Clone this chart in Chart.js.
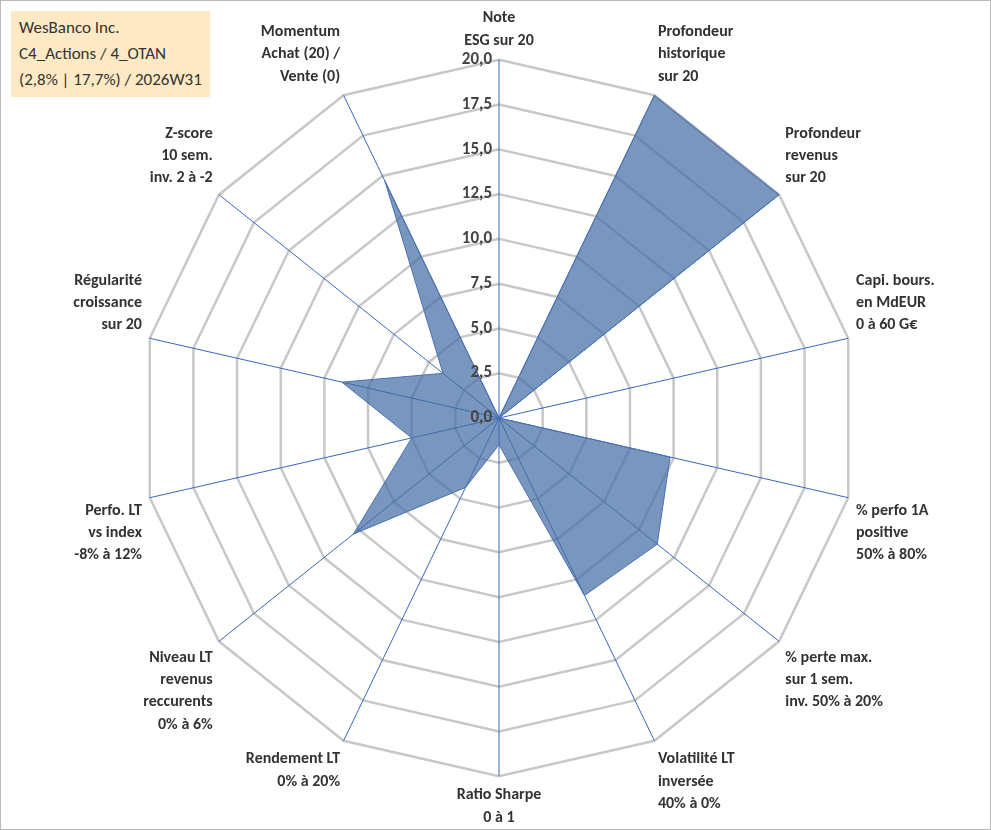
<!DOCTYPE html>
<html><head><meta charset="utf-8">
<script src="https://cdn.jsdelivr.net/npm/chart.js@4"></script>
<style>
body{margin:0;background:#fff;font-family:Calibri,Carlito,"Liberation Sans",Arial,sans-serif}
#wrap{position:relative;width:989px;height:828px;border:1px solid #bbb}
#box{position:absolute;left:10px;top:10px;background:#fde9c3;padding:4px 8px;font-size:17px;line-height:26px;color:#333}
</style></head><body>
<div id="wrap">
<canvas id="c" width="989" height="828"></canvas>
<div id="box">WesBanco Inc.<br>C4_Actions / 4_OTAN<br>(2,8% | 17,7%) / 2026W31</div>
</div>
<script>
// axis labels
const labels = [
  ['Note', 'ESG sur 20'],
  ['Profondeur', 'historique', 'sur 20'],
  ['Profondeur', 'revenus', 'sur 20'],
  ['Capi. bours.', 'en MdEUR', '0 à 60 G€'],
  ['% perfo 1A', 'positive', '50% à 80%'],
  ['% perte max.', 'sur 1 sem.', 'inv. 50% à 20%'],
  ['Volatilité LT', 'inversée', '40% à 0%'],
  ['Ratio Sharpe', '0 à 1'],
  ['Rendement LT', '0% à 20%'],
  ['Niveau LT', 'revenus', 'reccurents', '0% à 6%'],
  ['Perfo. LT', 'vs index', '-8% à 12%'],
  ['Régularité', 'croissance', 'sur 20'],
  ['Z-score', '10 sem.', 'inv. 2 à -2'],
  ['Momentum', 'Achat (20) /', 'Vente (0)']
];
const scores = [0, 20, 20, 0, 9.8, 11.3, 11, 1.5, 4.3, 10.4, 5, 9, 4, 14.7];
const tickValues = [0, 2.5, 5, 7.5, 10, 12.5, 15, 17.5, 20];

// tick labels left of the vertical axis
const tickPlugin = {
  id: 'ticksLeft',
  afterDraw(chart) {
    const s = chart.scales.r, c = chart.ctx;
    c.save();
    c.font = 'bold 17px Calibri, Carlito, "Liberation Sans", sans-serif';
    c.fillStyle = '#444'; c.textAlign = 'right'; c.textBaseline = 'middle';
    for (const v of tickValues) {
      const d = s.getDistanceFromCenterForValue(v);
      c.fillText(v.toFixed(1).replace('.', ','), s.xCenter - 7, s.yCenter - d);
    }
    c.restore();
  }
};

new Chart(document.getElementById('c'), {
  type: 'radar',
  data: { labels, datasets: [{ data: scores, backgroundColor: 'rgba(68,110,165,0.72)', borderColor: '#4a72b0', borderWidth: 1, pointRadius: 0 }] },
  options: {
    responsive: false, animation: false,
    layout: { padding: { top: 6, bottom: 0, left: 30, right: 12 } },
    plugins: { legend: { display: false }, tooltip: { enabled: false } },
    scales: { r: {
      min: 0, max: 20,
      ticks: { stepSize: 2.5, display: false },
      grid: { color: '#c8c8c8', lineWidth: 2.5 },
      angleLines: { color: '#3a66c0', lineWidth: 1 },
      pointLabels: { font: { size: 16, weight: 'bold', lineHeight: 1.4, family: 'Calibri, Carlito, "Liberation Sans", sans-serif' }, color: '#333', padding: 8 }
    } }
  },
  plugins: [tickPlugin]
});
</script>
</body></html>
